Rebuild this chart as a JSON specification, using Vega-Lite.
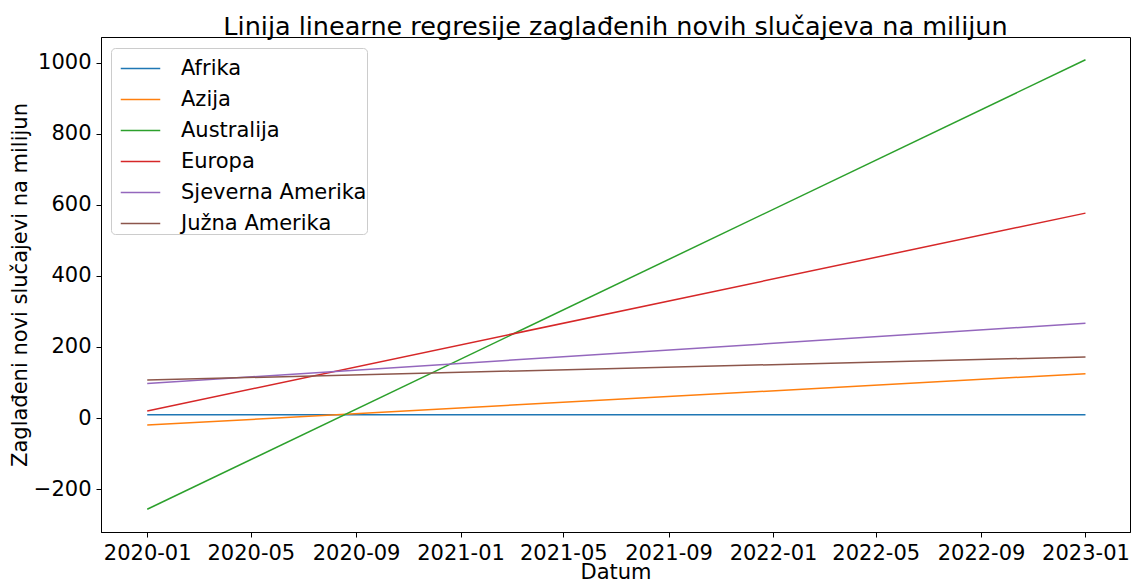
{
  "$schema": "https://vega.github.io/schema/vega-lite/v6.json",
  "width": 1029,
  "height": 495,
  "autosize": {"type": "none"},
  "padding": {"left": 101, "top": 37, "right": 1, "bottom": 51},
  "background": "white",
  "title": {
    "text": "Linija linearne regresije zaglađenih novih slučajeva na milijun",
    "fontSize": 25.5,
    "font": "DejaVu Sans",
    "fontWeight": "normal",
    "color": "black",
    "anchor": "middle",
    "offset": -3
  },
  "data": {
    "values": [
      {"datum": "2020-01-01", "kontinent": "Afrika", "vrijednost": 9},
      {"datum": "2023-01-01", "kontinent": "Afrika", "vrijednost": 9},
      {"datum": "2020-01-01", "kontinent": "Azija", "vrijednost": -20},
      {"datum": "2023-01-01", "kontinent": "Azija", "vrijednost": 125},
      {"datum": "2020-01-01", "kontinent": "Australija", "vrijednost": -257},
      {"datum": "2023-01-01", "kontinent": "Australija", "vrijednost": 1009},
      {"datum": "2020-01-01", "kontinent": "Europa", "vrijednost": 20},
      {"datum": "2023-01-01", "kontinent": "Europa", "vrijednost": 577},
      {"datum": "2020-01-01", "kontinent": "Sjeverna Amerika", "vrijednost": 97},
      {"datum": "2023-01-01", "kontinent": "Sjeverna Amerika", "vrijednost": 267},
      {"datum": "2020-01-01", "kontinent": "Južna Amerika", "vrijednost": 107},
      {"datum": "2023-01-01", "kontinent": "Južna Amerika", "vrijednost": 172}
    ]
  },
  "mark": {"type": "line", "strokeWidth": 1.5, "clip": true},
  "encoding": {
    "x": {
      "field": "datum",
      "type": "temporal",
      "title": "Datum",
      "scale": {
        "type": "utc",
        "domain": [
          {"year": 2019, "month": 11, "date": 8, "utc": true},
          {"year": 2023, "month": 2, "date": 22, "utc": true}
        ]
      },
      "axis": {
        "values": [
          {"year": 2020, "month": 1, "date": 1, "utc": true},
          {"year": 2020, "month": 5, "date": 1, "utc": true},
          {"year": 2020, "month": 9, "date": 1, "utc": true},
          {"year": 2021, "month": 1, "date": 1, "utc": true},
          {"year": 2021, "month": 5, "date": 1, "utc": true},
          {"year": 2021, "month": 9, "date": 1, "utc": true},
          {"year": 2022, "month": 1, "date": 1, "utc": true},
          {"year": 2022, "month": 5, "date": 1, "utc": true},
          {"year": 2022, "month": 9, "date": 1, "utc": true},
          {"year": 2023, "month": 1, "date": 1, "utc": true}
        ],
        "format": "%Y-%m",
        "labelOverlap": false,
        "labelFlush": false,
        "labelPadding": 5,
        "titlePadding": -2
      }
    },
    "y": {
      "field": "vrijednost",
      "type": "quantitative",
      "title": "Zaglađeni novi slučajevi na milijun",
      "scale": {"domain": [-321, 1073], "nice": false, "zero": false},
      "axis": {"values": [-200, 0, 200, 400, 600, 800, 1000], "format": "d", "labelPadding": 5, "titlePadding": 3}
    },
    "color": {
      "field": "kontinent",
      "type": "nominal",
      "title": null,
      "sort": ["Afrika", "Azija", "Australija", "Europa", "Sjeverna Amerika", "Južna Amerika"],
      "scale": {
        "domain": ["Afrika", "Azija", "Australija", "Europa", "Sjeverna Amerika", "Južna Amerika"],
        "range": ["#1f77b4", "#ff7f0e", "#2ca02c", "#d62728", "#9467bd", "#8c564b"]
      },
      "legend": {
        "orient": "none",
        "legendX": 10,
        "legendY": 11,
        "symbolType": "stroke",
        "symbolSize": 1560,
        "symbolStrokeWidth": 1.5,
        "symbolOffset": 9,
        "labelFontSize": 21,
        "labelFont": "DejaVu Sans",
        "labelColor": "black",
        "labelOffset": 20,
        "labelLimit": 400,
        "rowPadding": 0,
        "padding": 0,
        "strokeColor": "#cccccc",
        "fillColor": "white",
        "cornerRadius": 4
      }
    }
  },
  "config": {
    "font": "DejaVu Sans",
    "view": {"stroke": "black", "strokeWidth": 1},
    "axis": {
      "grid": false,
      "domainColor": "black",
      "tickColor": "black",
      "tickSize": 5,
      "labelFontSize": 21,
      "labelColor": "black",
      "labelFont": "DejaVu Sans",
      "titleFontSize": 21,
      "titleFont": "DejaVu Sans",
      "titleFontWeight": "normal",
      "titleColor": "black"
    }
  }
}
